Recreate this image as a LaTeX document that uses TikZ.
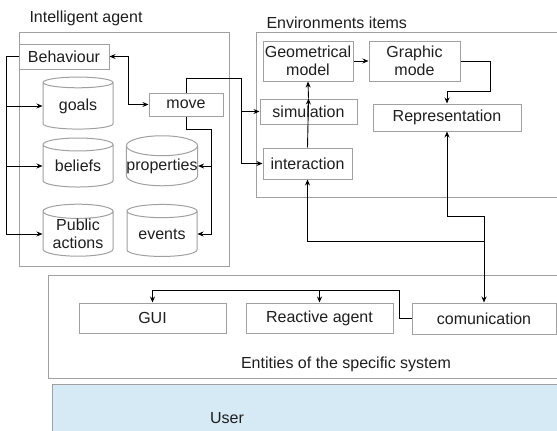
\documentclass[tikz,border=0pt]{standalone}
\usepackage{fontspec}
\setmainfont{Liberation Sans}
\usetikzlibrary{arrows.meta, shapes.geometric}
\definecolor{BoxGray}{RGB}{160, 160, 160}
\definecolor{InkGray}{RGB}{30, 30, 30}
\definecolor{UserBlue}{RGB}{214, 234, 246}

\tikzset{
  box/.style={draw=BoxGray, line width=1pt, text=InkGray, inner sep=0pt, align=center},
  store/.style={cylinder, shape border rotate=90, draw=BoxGray, line width=1pt, text=InkGray,
    aspect=0.28, minimum width=70pt, minimum height=52pt, inner sep=0pt, align=center},
  frame/.style={draw=BoxGray, line width=1pt},
  link/.style={draw=black, line width=0.9pt},
}

\begin{document}
\begin{tikzpicture}[x=1pt, y=-1pt, >={Stealth[length=6pt,width=5pt]}, font=\fontsize{16}{18}\selectfont]
  \useasboundingbox (0,0) rectangle (557,431);

  % Containers
  \draw[frame] (19,32) rectangle (229,266);
  \draw[frame] (557,32) -- (256,32) -- (256,197) -- (557,197);
  \draw[frame] (557,275) -- (48,275) -- (48,378) -- (557,378);
  \fill[UserBlue] (52,384) rectangle (557,431);
  \draw[frame] (557,384) -- (52,384) -- (52,431);

  \node[anchor=base west, text=InkGray] (agentT) at (26,23) {Intelligent agent};
  \node[anchor=base west, text=InkGray] (envT) at (263,28) {Environments items};
  \node[text=InkGray] (entT) at (346,364) {Entities of the specific system};
  \node[text=InkGray] (userT) at (227,418) {User};

  % Intelligent agent
  \node[box, minimum width=90pt, minimum height=25pt] (beh) at (64,56.5) {Behaviour};
  \node[box, minimum width=74pt, minimum height=23pt] (move) at (186,104.5) {move};
  \node[store] (goals) at (78,106) {goals};
  \node[store, minimum height=49pt] (beliefs) at (78,166) {beliefs};
  \node[store] (pub) at (78,234) {Public\\actions};
  \node[store, minimum height=50pt] (props) at (162,166) {properties};
  \node[store] (events) at (162,234) {events};

  % Environments items
  \node[box, minimum width=90pt, minimum height=40pt] (geo) at (308,61) {Geometrical\\model};
  \node[box, minimum width=91pt, minimum height=40pt] (graph) at (414.5,61) {Graphic\\mode};
  \node[box, minimum width=97pt, minimum height=25pt] (sim) at (308.5,111.5) {simulation};
  \node[box, minimum width=89pt, minimum height=31pt] (inter) at (307.5,163.5) {interaction};
  \node[box, minimum width=148pt, minimum height=27pt] (rep) at (447,117.5) {Representation};

  % Entities of the specific system
  \node[box, minimum width=147pt, minimum height=30pt] (gui) at (152.5,318) {GUI};
  \node[box, minimum width=147pt, minimum height=30pt] (react) at (319.5,318) {Reactive agent};
  \node[box, minimum width=144pt, minimum height=31pt] (comm) at (484,318.5) {comunication};

  % Agent links
  \coordinate (lbus) at (6,56.5);
  \coordinate (rbus) at (211,129);
  \coordinate (ebus) at (241,78);
  \draw[link, <->] (beh.east) -- ++(19,0) |- (move.west);
  \draw[link, ->] (beh.west) -- (lbus) |- (pub.west);
  \draw[link, ->] (lbus |- goals.west) -- (goals.west);
  \draw[link, ->] (lbus |- beliefs.west) -- (beliefs.west);
  \draw[link, ->] (move.south) |- (rbus) |- (events.east);
  \draw[link, ->] (rbus |- props.east) -- (props.east);
  \draw[link, ->] (move.north) |- (ebus) |- (inter.west);
  \draw[link, ->] (ebus |- sim.west) -- (sim.west);

  % Environment links
  \draw[link, ->] (geo.east) -- (graph.west);
  \draw[link, ->] (sim.north) -- (geo.south);
  \draw[link, ->] (inter.north) -- (sim.north);
  \draw[link, ->] (graph.east) -| (490,91) -| (rep.north);

  % Communication links
  \coordinate (cj) at (485,241);
  \coordinate (gbus) at (399,290);
  \draw[link, <->] (comm.north) -- ++(0,-86) -| (rep.south);
  \draw[link, ->] (comm.north |- cj) -| (inter.south);
  \draw[link, ->] (comm.west) -| (gbus) -| (gui.north);
  \draw[link, ->] (react.north |- gbus) -- (react.north);
\end{tikzpicture}
\end{document}
